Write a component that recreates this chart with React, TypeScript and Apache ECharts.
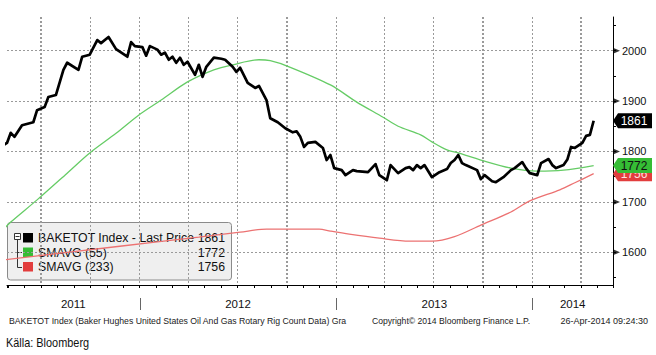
import React, { useEffect, useRef } from "react";
import * as echarts from "echarts";

const DAY = 86400000;
const FIRST_WEEK = Date.UTC(2011, 3, 22); // first weekly rig count (Friday) in view
const X_MIN = Date.UTC(2011, 3, 29);
const X_MAX = Date.UTC(2014, 4, 31);

// BAKETOT weekly rig count (week index from FIRST_WEEK)
const priceWeeks = [
  0, 1, 2, 3, 5, 8, 9, 11, 12, 14,
  16, 17, 20, 21, 23, 25, 26, 28, 30, 33,
  34, 35, 37, 38, 39, 41, 42, 43, 44, 45,
  46, 47, 48, 49, 51, 52, 53, 54, 56, 58,
  59, 61, 62, 63, 65, 67, 68, 70, 71, 73,
  75, 77, 78, 79, 80, 81, 83, 85, 86, 87,
  88, 90, 91, 93, 94, 97, 99, 100, 102, 103,
  105, 107, 108, 109, 110, 111, 112, 114, 116, 118,
  119, 120, 121, 122, 123, 126, 127, 128, 130, 131,
  133, 135, 136, 138, 139, 140, 142, 143, 145, 146,
  147, 149, 150, 151, 152, 154, 155, 156, 157,
];
const priceValues = [
  1812, 1817, 1837, 1829, 1852, 1858, 1882, 1888, 1908, 1912,
  1962, 1976, 1962, 1988, 1992, 2021, 2015, 2027, 2003, 1988,
  2017, 2009, 2007, 1990, 2009, 2002, 1992, 1996, 1982, 1988,
  1976, 1986, 1972, 1978, 1952, 1972, 1948, 1968, 1986, 1984,
  1982, 1968, 1958, 1966, 1936, 1926, 1930, 1902, 1866, 1858,
  1846, 1838, 1840, 1829, 1809, 1817, 1819, 1807, 1783, 1793,
  1767, 1763, 1753, 1763, 1761, 1759, 1775, 1753, 1743, 1773,
  1757, 1767, 1769, 1763, 1773, 1767, 1773, 1749, 1759, 1765,
  1777, 1783, 1793, 1777, 1773, 1763, 1745, 1753, 1741, 1739,
  1749, 1763, 1767, 1779, 1767, 1757, 1753, 1777, 1785, 1773,
  1767, 1773, 1784, 1809, 1807, 1817, 1831, 1833, 1861,
];

// SMAVG (55)
const sma55Weeks = [0, 2, 9, 17, 23, 30, 36, 42, 49, 56, 61, 68, 71, 76, 87, 94, 101, 105, 111, 114, 118, 121, 127, 135, 142, 149, 157];
const sma55Values = [1645, 1660, 1704, 1757, 1797, 1836, 1872, 1902, 1938, 1962, 1972, 1982, 1980, 1968, 1932, 1898, 1868, 1850, 1833, 1819, 1803, 1797, 1783, 1767, 1761, 1763, 1772];

// SMAVG (233)
const sma233Weeks = [0, 31, 52, 63, 70, 84, 87, 92, 100, 108, 114, 120, 127, 135, 140, 148, 152, 157];
const sma233Values = [1585, 1612, 1630, 1640, 1646, 1646, 1642, 1636, 1628, 1622, 1622, 1631, 1654, 1680, 1702, 1724, 1738, 1756];

const yearLabels = ["2011", "2012", "2013", "2014"];
const yearBounds = [X_MIN, Date.UTC(2012, 0, 1), Date.UTC(2013, 0, 1), Date.UTC(2014, 0, 1), X_MAX];
const yTickLabels = [1600, 1700, 1800, 1900, 2000];

// quarter starts used for the vertical grid lines (Jul 2011 .. Apr 2014)
const quarterStarts: number[] = [];
for (let k = 0; k < 12; k++) {
  const m = 6 + k * 3;
  quarterStarts.push(Date.UTC(2011 + Math.floor(m / 12), m % 12, 1));
}

const legendNames = ["BAKETOT Index - Last Price", "SMAVG (55)", "SMAVG (233)"];
const lineColors = ["#000000", "#66cc66", "#ec7272"];
const swatchColors = ["#000000", "#35bd35", "#e23d3d"];
const tagTextColors = ["#ffffff", "#111111", "#ffe0e0"];

const footerLeft = "BAKETOT Index (Baker Hughes United States Oil And Gas Rotary Rig Count Data) Gra";
const footerMid = "Copyright\u00a9 2014 Bloomberg Finance L.P.";
const footerRight = "26-Apr-2014 09:24:30";
const sourceNote = "Källa: Bloomberg";

const SANS = '"Liberation Sans", Arial, sans-serif';
const GRID_COLOR = "#9a9a9a";

const toSeries = (weeks: number[], values: number[]) =>
  weeks.map((w, i) => [FIRST_WEEK + w * 7 * DAY, values[i]]);

const seriesValues = [priceValues, sma55Values, sma233Values];
const lastValues = seriesValues.map((arr) => arr[arr.length - 1]);

// same pixel column as ECharts' sub-pixel optimised 1px lines
const pixelColumn = (x: number) => {
  const d = Math.round(x * 2);
  const px = (d + 1) % 2 === 0 ? d / 2 : (d - 1) / 2;
  return Math.floor(px);
};

function buildOption(): any {
  const legendRows = [238, 252.5, 267];
  const legendChildren: any[] = [
    {
      type: "rect",
      shape: { x: 7.5, y: 222.5, width: 224, height: 57.5, r: 3 },
      style: { fill: "rgba(236,236,236,0.82)", stroke: "#8a8a8a", lineWidth: 1 },
    },
    {
      type: "rect",
      shape: { x: 14.5, y: 233.5, width: 6, height: 6 },
      style: { fill: "#ffffff", stroke: "#333", lineWidth: 1 },
    },
    { type: "line", shape: { x1: 15.5, y1: 236.5, x2: 19.5, y2: 236.5 }, style: { stroke: "#333", lineWidth: 1 } },
    { type: "line", shape: { x1: 17.5, y1: 239.5, x2: 17.5, y2: 267.5 }, style: { stroke: "#333", lineWidth: 1 } },
    { type: "line", shape: { x1: 17.5, y1: 252.5, x2: 22, y2: 252.5 }, style: { stroke: "#333", lineWidth: 1 } },
    { type: "line", shape: { x1: 17.5, y1: 267.5, x2: 22, y2: 267.5 }, style: { stroke: "#333", lineWidth: 1 } },
  ];
  legendNames.forEach((name, i) => {
    const cy = legendRows[i];
    legendChildren.push({ type: "rect", shape: { x: 23, y: cy - 5, width: 10, height: 9.5 }, style: { fill: swatchColors[i] } });
    legendChildren.push({
      type: "text", x: 38, y: cy,
      style: { text: name, font: `12.3px ${SANS}`, fill: "#111", verticalAlign: "middle", textVerticalAlign: "middle" },
    });
    legendChildren.push({
      type: "text", x: 225, y: cy,
      style: {
        text: String(lastValues[i]), font: `12.3px ${SANS}`, fill: "#111",
        align: "right", textAlign: "right", verticalAlign: "middle", textVerticalAlign: "middle",
      },
    });
  });

  const footerStyle = (text: string, align: string, size: number) => ({
    text, font: `${size}px ${SANS}`, fill: "#222", align, textAlign: align,
    verticalAlign: "middle", textVerticalAlign: "middle",
  });

  return {
    animation: false,
    useUTC: true,
    backgroundColor: "#ffffff",
    grid: [
      { left: 7, top: 17, width: 606, height: 268 },
      { left: 7, top: 25.45, width: 606, height: 252.05 },
      { left: 7, top: 50.65, width: 606, height: 201.65 },
      { left: 7, top: 17, width: 606, height: 268 },
    ],
    xAxis: [
      {
        gridIndex: 0, type: "time", position: "bottom", min: X_MIN, max: X_MAX,
        minInterval: 31 * DAY, maxInterval: 31 * DAY,
        axisLine: { show: true, onZero: false, lineStyle: { color: "#000", width: 1 } },
        axisTick: { show: true, length: 3, lineStyle: { color: "#000", width: 1 } },
        axisLabel: { show: false }, splitLine: { show: false },
      },
      { gridIndex: 1, type: "time", min: X_MIN, max: X_MAX, show: false },
      { gridIndex: 2, type: "time", min: X_MIN, max: X_MAX, show: false },
      {
        gridIndex: 3, type: "time", min: X_MIN, max: X_MAX,
        minInterval: 92 * DAY, maxInterval: 92 * DAY,
        axisLine: { show: false, onZero: false }, axisTick: { show: false }, axisLabel: { show: false },
        splitLine: {
          show: true, showMinLine: false, showMaxLine: false,
          lineStyle: { color: [GRID_COLOR], width: 1, type: [2, 2] },
        },
      },
    ],
    yAxis: [
      {
        gridIndex: 0, type: "value", position: "right", min: 0, max: 1,
        axisLine: { show: true, onZero: false, lineStyle: { color: "#000", width: 1 } },
        axisTick: { show: false }, axisLabel: { show: false }, splitLine: { show: false },
      },
      {
        gridIndex: 1, type: "value", position: "right", min: 1550, max: 2050, interval: 50,
        axisLine: { show: false },
        axisTick: { show: true, length: 3, lineStyle: { color: "#000", width: 1 } },
        axisLabel: {
          show: true, margin: 9, color: "#111", fontSize: 11, fontFamily: SANS,
          formatter: (v: number) => (yTickLabels.indexOf(v) >= 0 ? String(v) : ""),
        },
        splitLine: { show: false },
      },
      {
        gridIndex: 2, type: "value", position: "right",
        min: yTickLabels[0], max: yTickLabels[yTickLabels.length - 1], interval: 100,
        axisLine: { show: false }, axisTick: { show: false }, axisLabel: { show: false },
        splitLine: { show: true, lineStyle: { color: [GRID_COLOR], width: 1, type: [2, 2] } },
      },
      { gridIndex: 3, type: "value", min: 0, max: 1, show: false },
    ],
    series: [
      {
        name: legendNames[2], type: "line", xAxisIndex: 1, yAxisIndex: 1,
        data: toSeries(sma233Weeks, sma233Values), showSymbol: false, smooth: 0.3,
        lineStyle: { color: lineColors[2], width: 1.3 }, itemStyle: { color: lineColors[2] }, z: 3,
        markLine: {
          silent: true, symbol: ["none", "none"], label: { show: false }, animation: false,
          lineStyle: { color: GRID_COLOR, width: 1, type: [2, 2], opacity: 0 },
          data: quarterStarts.map((t) => ({ xAxis: t })),
        },
      },
      {
        name: legendNames[1], type: "line", xAxisIndex: 1, yAxisIndex: 1,
        data: toSeries(sma55Weeks, sma55Values), showSymbol: false, smooth: 0.3,
        lineStyle: { color: lineColors[1], width: 1.3 }, itemStyle: { color: lineColors[1] }, z: 3,
      },
      {
        name: legendNames[0], type: "line", xAxisIndex: 1, yAxisIndex: 1,
        data: toSeries(priceWeeks, priceValues), showSymbol: false,
        lineStyle: { color: lineColors[0], width: 2.7, join: "round" }, itemStyle: { color: lineColors[0] }, z: 4,
      },
      {
        name: "ticks", type: "scatter", xAxisIndex: 1, yAxisIndex: 1,
        data: yTickLabels.map((v) => [X_MAX, v]),
        symbol: "path://M0,0L10,5L0,10Z", symbolSize: [7, 6], symbolOffset: [3.5, 0],
        itemStyle: { color: "#000" }, clip: false, silent: true, z: 5,
      },
      {
        name: "tags", type: "custom", xAxisIndex: 1, yAxisIndex: 1, clip: false, silent: true, z: 6,
        data: [2, 1, 0].map((i) => [X_MAX, lastValues[i], i]),
        renderItem: (params: any, api: any) => {
          const v = api.value(1) as number;
          const idx = api.value(2) as number;
          const pt = api.coord([X_MAX, v]);
          const x = pt[0];
          const y = pt[1];
          const h = 7.5;
          return {
            type: "group",
            children: [
              {
                type: "polygon",
                shape: { points: [[x, y], [x + 5, y - h], [x + 39, y - h], [x + 39, y + h], [x + 5, y + h]] },
                style: { fill: swatchColors[idx] },
              },
              {
                type: "text",
                style: {
                  text: String(v), x: x + 21, y: y + 0.5, align: "center", textAlign: "center",
                  verticalAlign: "middle", textVerticalAlign: "middle", fill: tagTextColors[idx], font: `12px ${SANS}`,
                },
              },
            ],
          };
        },
      },
      {
        name: "years", type: "custom", xAxisIndex: 0, yAxisIndex: 0, clip: false, silent: true,
        data: yearLabels.map((_, i) => [yearBounds[i], 0, yearBounds[i + 1]]),
        renderItem: (params: any, api: any) => {
          const i = params.dataIndex;
          const p0 = api.coord([api.value(0), 0]);
          const p1 = api.coord([api.value(2), 0]);
          const base = p0[1];
          const children: any[] = [
            {
              type: "text",
              style: {
                text: yearLabels[i], x: (p0[0] + p1[0]) / 2, y: base + 19, align: "center", textAlign: "center",
                verticalAlign: "middle", textVerticalAlign: "middle", fill: "#111", font: `11.5px ${SANS}`,
              },
            },
          ];
          if (i < yearLabels.length - 1) {
            const sx = Math.round(p1[0]) + 0.5;
            children.push({ type: "line", shape: { x1: sx, y1: base + 13, x2: sx, y2: base + 25 }, style: { stroke: "#666", lineWidth: 1 } });
          }
          return { type: "group", children };
        },
      },
      {
        name: "quarters", type: "custom", xAxisIndex: 0, yAxisIndex: 0, clip: false, silent: true,
        data: quarterStarts.map((t) => [t, 0, 1]),
        renderItem: (params: any, api: any) => {
          const bottom = api.coord([api.value(0), api.value(1)]);
          const top = api.coord([api.value(0), api.value(2)]);
          const x = pixelColumn(bottom[0]);
          const children: any[] = [];
          for (let y = Math.round(top[1]); y < bottom[1] - 1; y += 4) {
            children.push({ type: "rect", shape: { x, y, width: 1, height: 2 }, style: { fill: GRID_COLOR } });
          }
          return { type: "group", children };
        },
      },
    ],
    graphic: {
      elements: [
        { type: "group", x: 0, y: 0, z: 100, children: legendChildren },
        { type: "text", x: 9, y: 321, z: 100, style: footerStyle(footerLeft, "left", 8.7) },
        { type: "text", x: 372, y: 321, z: 100, style: footerStyle(footerMid, "left", 8.6) },
        { type: "text", x: 648, y: 321, z: 100, style: footerStyle(footerRight, "right", 9) },
        {
          type: "text", x: 6, y: 343, z: 100, scaleX: 0.84,
          style: { text: sourceNote, font: `13px ${SANS}`, fill: "#111", verticalAlign: "middle", textVerticalAlign: "middle" },
        },
      ],
    },
  };
}

export default function App() {
  const ref = useRef<HTMLDivElement>(null);
  useEffect(() => {
    document.body.style.margin = "0";
    if (!ref.current) return;
    const chart = echarts.init(ref.current, undefined, { renderer: "svg" });
    chart.setOption(buildOption());
    return () => chart.dispose();
  }, []);
  return (
    <div ref={ref} style={{ position: "absolute", left: 0, top: 0, width: 656, height: 355, background: "#fff" }} />
  );
}
